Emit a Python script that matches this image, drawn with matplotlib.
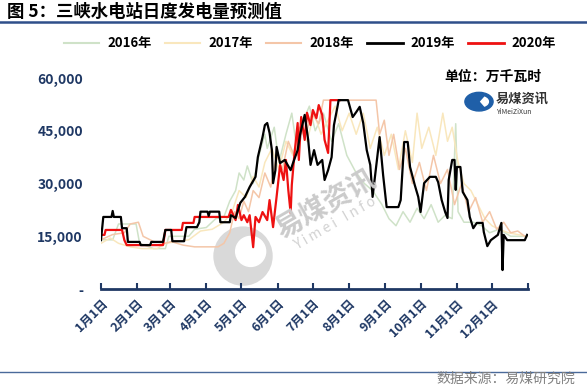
import matplotlib
matplotlib.use('Agg')
import matplotlib.pyplot as plt
from matplotlib.patches import Circle, Wedge, Ellipse
from matplotlib.lines import Line2D

plt.rcParams['font.family'] = ['Noto Sans CJK SC', 'DejaVu Sans']

# day of year -> value (万千瓦时)
days_2016 = [0, 10, 15, 30, 33, 45, 55, 58, 75, 80, 90, 98, 105, 110, 115, 118, 122, 125, 130, 135,
             140, 142, 148, 152, 158, 163, 168, 173, 178, 183, 190, 197, 203, 210, 218, 225, 232, 240,
             246, 252, 258, 264, 270, 276, 282, 288, 294, 300, 303, 305, 310, 318, 325, 332, 340, 350, 364]
vals_2016 = [14000, 14000, 18500, 18500, 13000, 11500, 11500, 15000, 15000, 17000, 17500, 20000, 20500,
             25000, 28000, 33000, 31000, 35000, 30000, 38000, 44000, 40000, 46000, 36000, 44000, 50000,
             38000, 48000, 52000, 45000, 50000, 42000, 47000, 38000, 33000, 30000, 28000, 24000, 20000,
             18000, 22000, 19000, 23000, 20000, 24000, 19000, 21000, 20000, 47000, 22000, 19000, 19000,
             18000, 16000, 17000, 15000, 15000]

days_2017 = [0, 8, 15, 25, 35, 48, 55, 65, 75, 85, 95, 105, 112, 118, 124, 130, 135, 140, 146, 152,
             158, 164, 170, 176, 182, 188, 194, 200, 206, 212, 218, 224, 230, 236, 242, 248, 254, 260,
             266, 270, 274, 280, 286, 292, 296, 300, 305, 310, 316, 322, 328, 334, 340, 348, 356, 364]
vals_2017 = [13000, 14500, 13000, 12000, 11500, 11500, 13000, 13500, 14000, 16500, 17000, 19000, 22000,
             28000, 26000, 32000, 29000, 36000, 40000, 34000, 42000, 38000, 46000, 42000, 50000, 44000,
             48000, 52000, 45000, 50000, 44000, 50000, 40000, 46000, 38000, 44000, 34000, 45000, 36000,
             50000, 40000, 46000, 38000, 50000, 42000, 46000, 36000, 30000, 28000, 24000, 20000, 18000,
             17000, 16000, 15500, 15000]

days_2018 = [0, 10, 20, 25, 32, 36, 45, 55, 60, 70, 80, 100, 105, 110, 114, 118, 122, 126, 130, 135,
             140, 145, 150, 155, 160, 165, 170, 175, 180, 186, 190, 235, 238, 242, 246, 250, 255, 260,
             266, 272, 278, 284, 290, 296, 302, 308, 314, 320, 326, 332, 338, 344, 350, 356, 362]
vals_2018 = [14000, 15500, 16000, 18500, 19000, 15000, 13500, 13000, 13500, 12500, 12000, 12000, 13000,
             16000, 22000, 20000, 25000, 22000, 28000, 26000, 33000, 29000, 38000, 34000, 42000, 38000,
             46000, 44000, 50000, 47000, 53700, 53700, 44000, 48000, 38000, 44000, 34000, 40000, 30000,
             36000, 28000, 38000, 30000, 34000, 24000, 30000, 22000, 26000, 19000, 22000, 17000, 19000,
             16000, 16500, 15000]

days_2019 = [0, 2, 9, 10, 11, 17, 18, 22, 23, 33, 34, 42, 43, 53, 55, 60, 61, 71, 73, 82, 84, 85, 91,
             92, 93, 101, 102, 110, 111, 115, 119, 123, 127, 132, 134, 138, 140, 142, 144, 146, 147, 149,
             150, 153, 157, 162, 164, 168, 170, 174, 177, 179, 182, 185, 189, 191, 194, 197, 199, 202,
             203, 211, 215, 218, 221, 224, 227, 230, 232, 236, 238, 241, 244, 254, 256, 259, 262, 264,
             268, 271, 273, 276, 281, 286, 288, 291, 294, 296, 297, 300, 302, 303, 304, 307, 309, 313,
             315, 318, 321, 326, 327, 330, 333, 339, 342, 343, 344, 347, 362, 364]
vals_2019 = [13900, 20500, 20500, 22200, 20500, 20500, 17300, 17300, 13400, 13400, 12500, 12500, 13400,
             13400, 16800, 16800, 13600, 13600, 17600, 17600, 19000, 22000, 22000, 20800, 22000, 22000,
             19000, 19000, 21000, 20200, 24500, 26200, 29000, 31900, 37500, 43200, 46600, 47200, 44400,
             39500, 30100, 33800, 40400, 35800, 36700, 33800, 35800, 39500, 43800, 49500, 42400, 35300,
             39500, 35300, 36700, 31000, 33800, 37500, 46600, 51800, 53700, 53700, 48900, 50300, 51800,
             47200, 39500, 35300, 26200, 37500, 43200, 32400, 23300, 23300, 25300, 41800, 41800, 34700,
             29600, 26200, 21900, 30100, 31900, 31900, 30400, 25300, 21900, 20200, 31000, 36700, 36700,
             28200, 34700, 34700, 27600, 25300, 20500, 17300, 18800, 18800, 16200, 12200, 13900, 15400,
             18800, 5400, 15400, 13900, 13900, 15400]

days_2020 = [0, 3, 4, 18, 20, 22, 53, 55, 69, 70, 79, 80, 109, 111, 115, 117, 120, 122, 125, 127, 130,
             132, 135, 138, 142, 144, 147, 150, 153, 156, 158, 160, 162, 163, 165, 168, 169, 171, 174,
             176, 179, 181, 184, 186, 189, 191, 194, 196, 204]
vals_2020 = [15400, 15400, 16800, 16800, 13900, 12500, 12500, 16800, 16800, 18800, 18800, 20500, 20500,
             22500, 19600, 23900, 19600, 21000, 19000, 21000, 11900, 20500, 19000, 21900, 19600, 25300,
             17600, 26200, 35300, 31000, 36700, 28200, 21600, 29600, 37500, 47200, 36700, 48900, 42400,
             50100, 46600, 50900, 48600, 52300, 49500, 42400, 38700, 53700, 53700]

month_starts = [0, 31, 59, 90, 120, 151, 181, 212, 243, 273, 304, 334]
month_labels = ['1月1日', '2月1日', '3月1日', '4月1日', '5月1日', '6月1日',
                '7月1日', '8月1日', '9月1日', '10月1日', '11月1日', '12月1日']
y_ticks = [0, 15000, 30000, 45000, 60000]
y_labels = ['-', '15,000', '30,000', '45,000', '60,000']

navy = '#1f3864'

fig = plt.figure(figsize=(5.87, 3.88), dpi=100)
ax = fig.add_axes([0.172, 0.255, 0.728, 0.544])

# faint watermark behind the lines (figure coords)
fig.add_artist(Ellipse((0.414, 0.34), 58 / 587, 58 / 388, transform=fig.transFigure,
                       color='#d9d9d9', zorder=0))
fig.add_artist(Ellipse((0.427, 0.352), 30 / 587, 30 / 388, transform=fig.transFigure,
                       color='white', zorder=0))
fig.text(0.555, 0.472, '易煤资讯', fontsize=20, fontweight='bold', color='#cbcbcb',
         rotation=30, ha='center', va='center', zorder=0)
fig.text(0.571, 0.425, 'Y i m e i   I n f o', fontsize=10, color='#d2d2d2',
         rotation=30, ha='center', va='center', zorder=0)
ax.set_facecolor('none')

ax.plot(days_2016, vals_2016, color='#cfe2c8', lw=1.1, zorder=2)
ax.plot(days_2017, vals_2017, color='#f9e7bd', lw=1.1, zorder=2)
ax.plot(days_2018, vals_2018, color='#f4c6a8', lw=1.1, zorder=2)
ax.plot(days_2019, vals_2019, color='black', lw=1.6, zorder=4)
ax.plot(days_2020, vals_2020, color='#ee1111', lw=1.6, zorder=3)

ax.set_xlim(0, 365)
ax.set_ylim(0, 60000)
ax.set_xticks(month_starts + [365])
ax.set_xticklabels(month_labels + [''], rotation=45, ha='right', rotation_mode='anchor',
                   fontsize=9, fontweight='bold', color=navy)
ax.set_yticks(y_ticks)
ax.set_yticklabels(y_labels, fontsize=10, fontweight='bold', color=navy)
ax.tick_params(axis='y', length=0, pad=13)
ax.tick_params(axis='x', direction='in', length=4, width=1.5, color=navy, pad=6)
for s in ['top', 'right', 'left']:
    ax.spines[s].set_visible(False)
ax.spines['bottom'].set_color(navy)
ax.spines['bottom'].set_linewidth(2)

# legend
handles = [Line2D([], [], color=c, lw=w) for c, w in
           [('#cfe2c8', 1.5), ('#f9e7bd', 1.5), ('#f4c6a8', 1.5), ('black', 2), ('#ee1111', 2)]]
fig.legend(handles, ['2016年', '2017年', '2018年', '2019年', '2020年'], loc='center',
           bbox_to_anchor=(0.528, 0.888), ncol=5, frameon=False, handlelength=2.7,
           columnspacing=1.0, handletextpad=0.6, prop={'weight': 'bold', 'size': 9.5})

# header / footer
fig.text(0.012, 0.97, '图 5：三峡水电站日度发电量预测值', fontsize=12.5, fontweight='bold', va='center')
fig.add_artist(Line2D([0, 1], [0.943, 0.943], color='#2f4f8a', lw=1.8))
fig.add_artist(Line2D([0, 1], [0.042, 0.042], color='#4a6a9a', lw=1))
fig.text(0.98, 0.023, '数据来源：易煤研究院', fontsize=10, color='#808080', ha='right', va='center')

fig.text(0.923, 0.801, '单位：万千瓦时', fontsize=10, fontweight='bold', ha='right', va='center')
fig.add_artist(Circle((0.816, 0.738), 0.024, transform=fig.transFigure, color='#1f5fa8'))
fig.add_artist(Wedge((0.819, 0.738), 0.013, 300, 60, transform=fig.transFigure, color='white'))
fig.text(0.845, 0.745, '易煤资讯', fontsize=9.5, fontweight='bold', color='#333333', va='center')
fig.text(0.845, 0.712, 'YiMeiZiXun', fontsize=5, color='#333333', va='center')

fig.savefig('out.png', dpi=100)
